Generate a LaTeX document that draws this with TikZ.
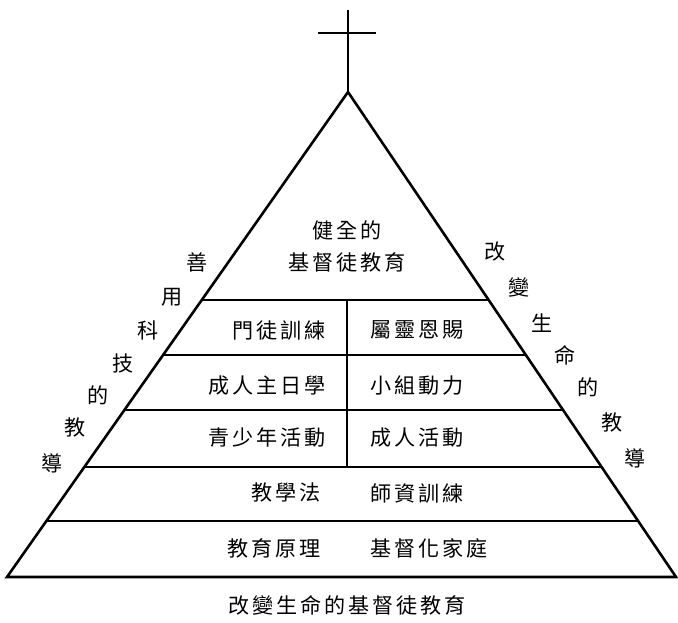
\documentclass[tikz,border=0pt]{standalone}
\usepackage{fontspec}
\newfontfamily\cjk[LetterSpace=14]{Noto Sans CJK TC}
\usepackage{tikz}

\begin{document}
\begin{tikzpicture}[x=0.03cm,y=-0.03cm,line width=2.2pt,
    every node/.style={font=\cjk\fontsize{18}{20}\selectfont,inner sep=0pt}]
     \useasboundingbox (0,0) rectangle (678,623);
     \coordinate (apex) at (348,92);
     \coordinate (bl) at (7,577);
     \coordinate (br) at (676,577);
     \coordinate (crosstop) at (348,10);
     \coordinate (barl) at (318,33);
     \coordinate (barr) at (376,33);
     % cross
     \draw (crosstop) -- (apex);
     \draw (barl) -- (barr);
     % layers
     \begin{scope}
       \clip (bl) -- (apex) -- (br) -- cycle;
       \draw (0,300) -- (678,300)
             (0,355) -- (678,355)
             (0,410) -- (678,410)
             (0,467) -- (678,467)
             (0,521) -- (678,521);
     \end{scope}
     \draw (347,300) -- (347,467);
     \draw[line join=miter] (bl) -- (apex) -- (br) -- cycle;
     % texts inside
     \node at (347,230) (top1) {健全的};
     \node at (347,262) (top2) {基督徒教育};
     \node[anchor=east] at (327,330) (disc) {門徒訓練};
     \node[anchor=west] at (369,330) (gift) {屬靈恩賜};
     \node[anchor=east] at (327,386) (adult) {成人主日學};
     \node[anchor=west] at (369,386) (group) {小組動力};
     \node[anchor=east] at (327,438) (youth) {青少年活動};
     \node[anchor=west] at (369,438) (act) {成人活動};
     \node[anchor=east] at (322,493) (method) {教學法};
     \node[anchor=west] at (369,493) (teach) {師資訓練};
     \node[anchor=east] at (322,548) (princ) {教育原理};
     \node[anchor=west] at (369,548) (home) {基督化家庭};
     % side labels
     \node at (197,262) (la) {善};
     \node at (172,297) (lb) {用};
     \node at (148,330) (lc) {科};
     \node at (123,363) (ld) {技};
     \node at (98,395) (le) {的};
     \node at (75,428) (lf) {教};
     \node at (52,463) (lg) {導};
     \node at (495,252) (ra) {改};
     \node at (519,288) (rb) {變};
     \node at (542,323) (rc) {生};
     \node at (565,355) (rd) {命};
     \node at (588,387) (re) {的};
     \node at (612,423) (rf) {教};
     \node at (635,458) (rg) {導};
     % caption
     \node at (347,605) (cap) {改變生命的基督徒教育};
\end{tikzpicture}
\end{document}
